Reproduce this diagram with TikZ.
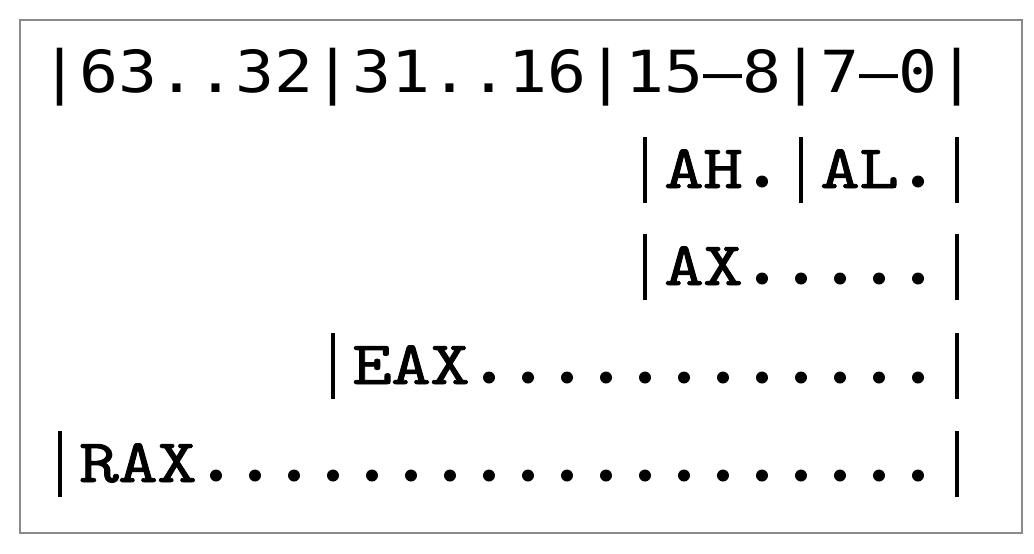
\documentclass[tikz,border=0pt]{standalone}
\usepackage{fontspec}
\usepackage{graphicx}
\newfontfamily\dvm{DejaVu Sans Mono}
\newfontfamily\cour[FakeBold=1.2]{lmmono10-regular.otf}
\definecolor{framegray}{HTML}{8A8A8A}
\tikzset{
  row/.style={anchor=base west, inner sep=0pt, outer sep=0pt},
}
% each character in a fixed 39pt cell
\def\cellsA#1{\cellsB#1\relax}
\def\cellsB#1{\ifx\relax#1\else\makebox[39pt][c]{\cellglyph{#1}}\expandafter\cellsB\fi}
\newcommand{\cellglyph}[1]{#1}
\newcommand{\bigdot}{\tikz[baseline=0pt]\fill (0pt,6.5pt) circle[radius=6pt];}
\newcommand{\vbar}{\rule[-15pt]{3.6pt}{66pt}}
\def\regglyph#1{\ifx.#1\bigdot\else\ifx|#1\vbar\else\scalebox{1.22}[1]{#1}\fi\fi}
\newcommand{\hdrline}[1]{{\dvm\fontsize{58}{58}\selectfont\renewcommand{\cellglyph}[1]{\scalebox{1.117}[1]{##1}}\cellsA{#1}}}
\newcommand{\regline}[1]{{\cour\fontsize{62}{62}\selectfont\let\cellglyph\regglyph\cellsA{#1}}}
\begin{document}
\begin{tikzpicture}[x=1pt,y=-1pt]
\useasboundingbox (0,0) rectangle (1034,554);
\draw[framegray, line width=2pt] (20,20) rectangle (1022,533);
\node[row] (hdr) at (40.5,92) {\hdrline{|63..32|31..16|15–8|7–0|}};
\node[row] (ahal) at (625.5,188) {\regline{|AH.|AL.|}};
\node[row] (ax) at (625.5,285) {\regline{|AX.....|}};
\node[row] (eax) at (313.5,384) {\regline{|EAX............|}};
\node[row] (rax) at (40.5,482) {\regline{|RAX...................|}};
\end{tikzpicture}
\end{document}
